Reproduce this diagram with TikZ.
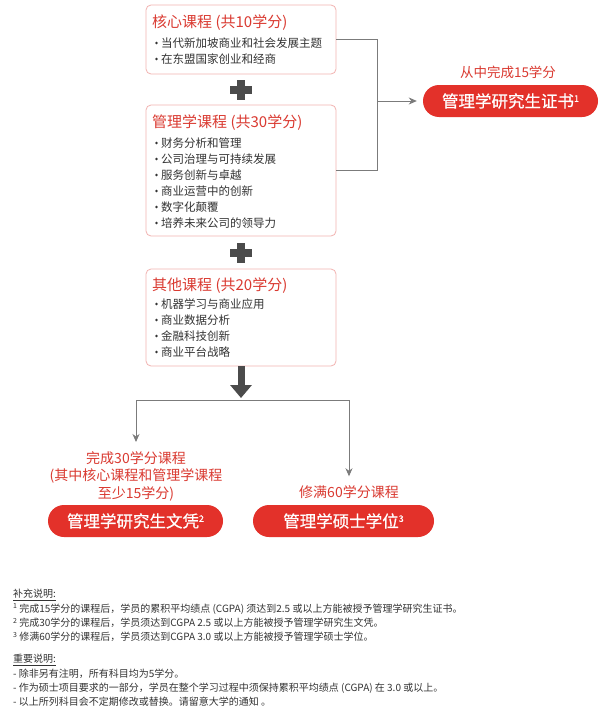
\documentclass[tikz,border=0pt]{standalone}
\usepackage{fontspec}
\setmainfont{Noto Sans CJK SC}
\newfontfamily\pillfont{Noto Sans CJK SC}[FakeBold=0.7]
\usepackage{tikz}
\usetikzlibrary{arrows.meta,positioning}
\definecolor{brandred}{HTML}{E3312A}
\definecolor{titlered}{HTML}{DA3A31}
\definecolor{boxline}{HTML}{F2B3B1}
\definecolor{linkgray}{HTML}{7B7B7B}
\definecolor{markgray}{HTML}{4B4B4B}
\definecolor{textgray}{HTML}{333333}
\newcommand\pillsup[1]{\raisebox{5.5pt}{\fontsize{9}{9}\selectfont #1}}

\tikzset{
    coursebox/.style={rounded corners=5pt, draw=boxline, line width=0.8pt, fill=white, minimum width=190pt, inner sep=0pt},
    boxtitle/.style={anchor=west, inner sep=0pt, text=titlered, font=\fontsize{15}{18}\selectfont},
    courseitem/.style={anchor=west, inner sep=0pt, text=textgray, font=\fontsize{11.5}{14}\selectfont},
    awardpill/.style={rounded corners=16pt, fill=brandred, text=white, minimum height=32pt, inner sep=0pt, font=\pillfont\fontsize{16.5}{20}\selectfont},
    awardnote/.style={inner sep=0pt, text=titlered, align=center, font=\fontsize{14}{17.5}\selectfont},
    link/.style={draw=linkgray, line width=0.9pt},
    linkarrow/.style={link, -{Stealth[length=8pt,width=7pt,inset=2.5pt]}},
    footline/.style={anchor=west, inner sep=0pt, text=textgray, font=\fontsize{10}{12}\selectfont},
    plussign/.pic={
        \fill[markgray] (-11,-3.75) rectangle (11,3.75);
        \fill[markgray] (-3.75,-10) rectangle (3.75,10);
    }
}

\begin{document}
\begin{tikzpicture}[x=1pt, y=-1pt]
    \path[fill=white, use as bounding box] (0,0) rectangle (603,712);

    % course boxes
    \node[coursebox, minimum height=69pt] (core) at (241,39.5) {};
    \node[coursebox, minimum height=131pt] (mgmt) at (241,170.5) {};
    \node[coursebox, minimum height=97pt] (other) at (241,317.5) {};

    \node[boxtitle] (core-title) at (152,23) {核心课程 (共10学分)};
    \foreach \course [count=\i] in {当代新加坡商业和社会发展主题, 在东盟国家创业和经商} {
        \fill[textgray] (156.5,27+16*\i) circle (1.3pt);
        \node[courseitem] (core-item-\i) at (161,27+16*\i) {\course};
    }

    \node[boxtitle] (mgmt-title) at (152,123) {管理学课程 (共30学分)};
    \foreach \course [count=\i] in {财务分析和管理, 公司治理与可持续发展, 服务创新与卓越, 商业运营中的创新, 数字化颠覆, 培养未来公司的领导力} {
        \fill[textgray] (156.5,127+16*\i) circle (1.3pt);
        \node[courseitem] (mgmt-item-\i) at (161,127+16*\i) {\course};
    }

    \node[boxtitle] (other-title) at (152,286) {其他课程 (共20学分)};
    \foreach \course [count=\i] in {机器学习与商业应用, 商业数据分析, 金融科技创新, 商业平台战略} {
        \fill[textgray] (156.5,288+16*\i) circle (1.3pt);
        \node[courseitem] (other-item-\i) at (161,288+16*\i) {\course};
    }

    \pic at (241,90) {plussign};
    \pic at (241,253) {plussign};

    % certificate branch
    \coordinate (merge) at (377,101);
    \node[awardnote, font=\fontsize{13.5}{16}\selectfont] (cert-note) at (508,72) {从中完成15学分};
    \node[awardpill, minimum width=175pt] (cert) at (510.5,101) {管理学研究生证书\pillsup{1}};
    \draw[link] (core.east) -| (merge);
    \draw[link] (mgmt.east) -| (merge);
    \draw[linkarrow, shorten >=6pt] (merge) -- (cert);

    % diploma and degree
    \coordinate (split) at (241,400);
    \draw[markgray, line width=7pt, -{Triangle[width=21pt,length=13pt]}] (other.south) -- ([yshift=2pt]split);

    \node[awardnote] (diploma-note) at (136,476) {完成30学分课程\\(其中核心课程和管理学课程\\至少15学分)};
    \node[awardnote] (master-note) at (349,492) {修满60学分课程};
    \node[awardpill, minimum width=175pt] (diploma) at (135.5,521) {管理学研究生文凭\pillsup{2}};
    \node[awardpill, minimum width=181pt] (master) at (343.5,521) {管理学硕士学位\pillsup{3}};
    \draw[linkarrow, shorten >=9pt] (split) -| (diploma-note);
    \draw[linkarrow, shorten >=9pt] (split) -| (master-note);

    % notes
    \node[footline] (notes-head) at (13,595) {\underline{补充说明:}};
    \node[footline] (note-1) at (13,609) {\textsuperscript{1}\,完成15学分的课程后，学员的累积平均绩点 (CGPA) 须达到2.5 或以上方能被授予管理学研究生证书。};
    \node[footline] (note-2) at (13,623) {\textsuperscript{2}\,完成30学分的课程后，学员须达到CGPA 2.5 或以上方能被授予管理学研究生文凭。};
    \node[footline] (note-3) at (13,637) {\textsuperscript{3}\,修满60学分的课程后，学员须达到CGPA 3.0 或以上方能被授予管理学硕士学位。};

    \node[footline] (rules-head) at (13,660) {\underline{重要说明:}};
    \node[footline] (rule-1) at (13,674) {- 除非另有注明，所有科目均为5学分。};
    \node[footline] (rule-2) at (13,688) {- 作为硕士项目要求的一部分，学员在整个学习过程中须保持累积平均绩点 (CGPA) 在 3.0 或以上。};
    \node[footline] (rule-3) at (13,702) {- 以上所列科目会不定期修改或替换。请留意大学的通知 。};
\end{tikzpicture}
\end{document}
